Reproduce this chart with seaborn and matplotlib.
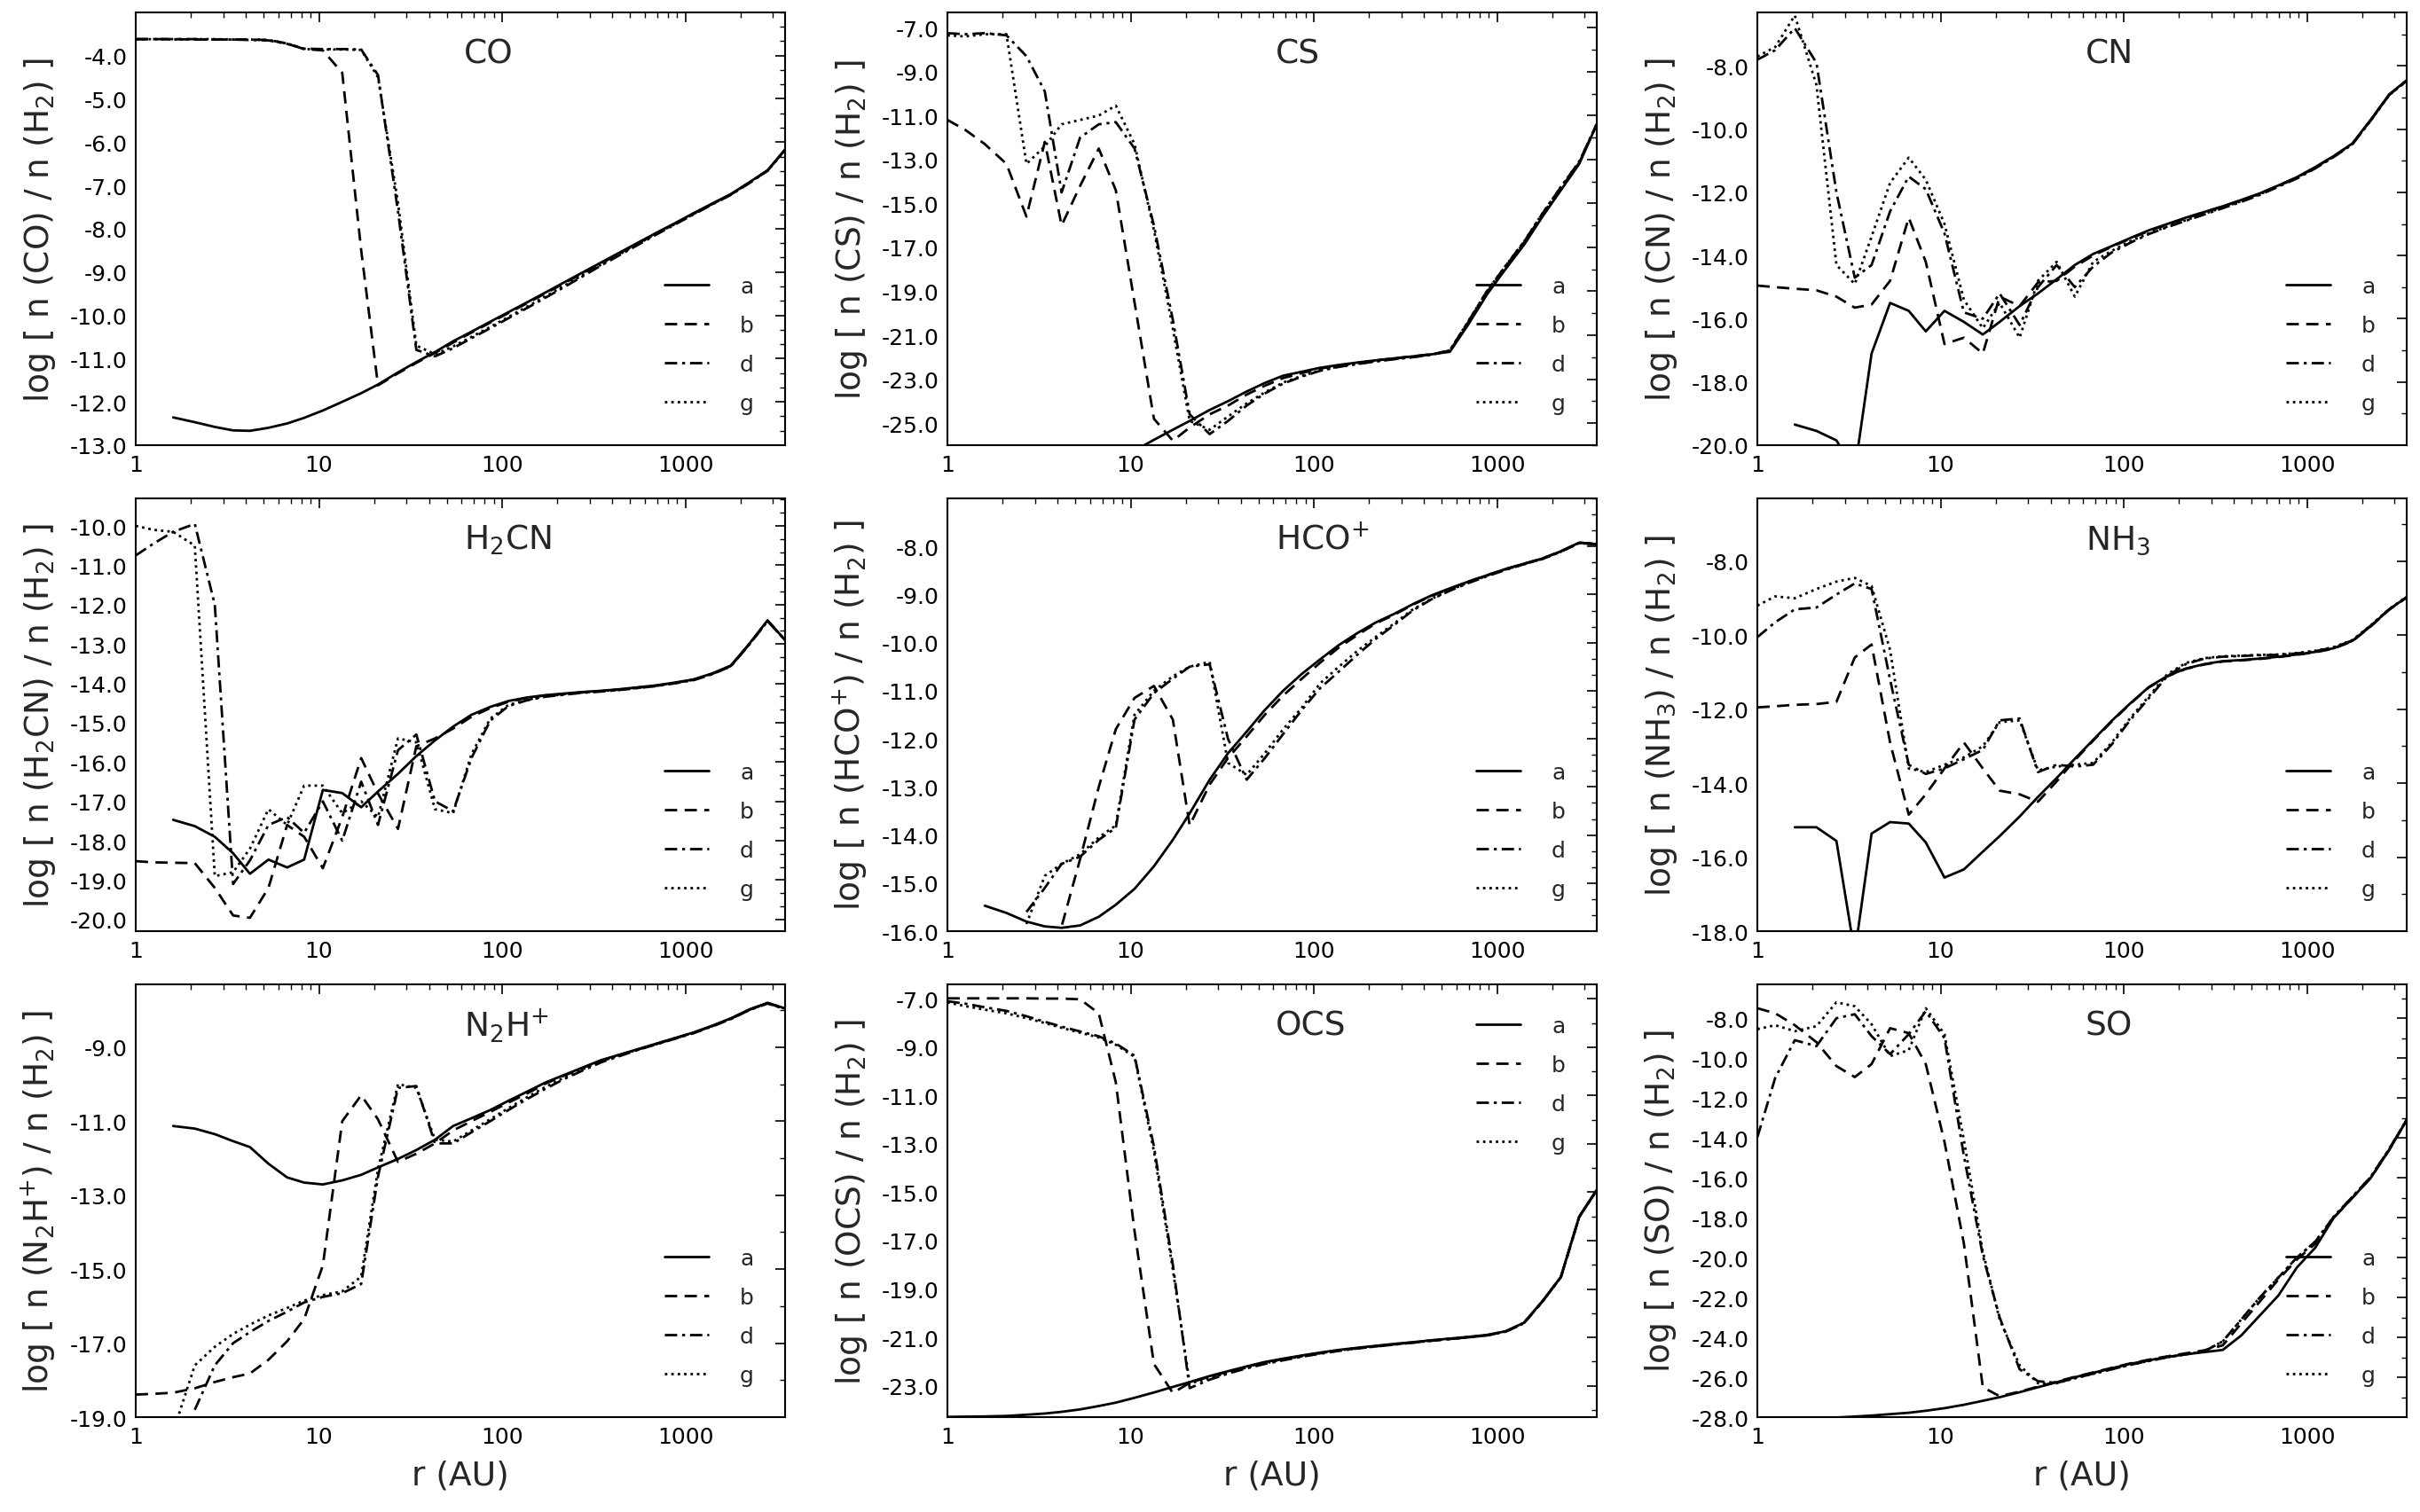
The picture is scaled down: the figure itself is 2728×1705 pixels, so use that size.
import numpy as np
import matplotlib
matplotlib.use("Agg")
import matplotlib.pyplot as plt
from matplotlib.ticker import AutoMinorLocator, FormatStrFormatter, LogLocator, NullFormatter
import seaborn as sns

nan = np.nan

# radial grid of the models (AU)
r_au = [1.0, 1.25, 1.6, 2.1, 2.7, 3.4, 4.2, 5.3, 6.7, 8.3, 10.5, 13.4, 17, 21, 27, 34, 43, 54,
        68, 86, 108, 137, 173, 218, 275, 347, 438, 553, 698, 880, 1110, 1400, 1770, 2230, 2810, 3500]

# log abundances, one list per species and model
CO_a = [nan, nan, -12.36, -12.47, -12.58, -12.66, -12.67, -12.6, -12.5, -12.37, -12.2, -12.0, -11.8, -11.6,
        -11.32, -11.08, -10.85, -10.6, -10.38, -10.15, -9.93, -9.7, -9.47, -9.24, -9.01, -8.78, -8.55, -8.32,
        -8.09, -7.87, -7.64, -7.42, -7.2, -6.93, -6.65, -6.17]
CO_b = [-3.62, -3.62, -3.62, -3.63, -3.63, -3.63, -3.63, -3.64, -3.72, -3.85, -3.88, -4.4, -8.5, -11.62,
        -11.34, -11.1, -10.87, -10.63, -10.4, -10.17, -9.95, -9.72, -9.49, -9.26, -9.03, -8.8, -8.57, -8.33,
        -8.1, -7.88, -7.65, -7.43, -7.21, -6.94, -6.66, -6.18]
CO_d = [-3.62, -3.62, -3.62, -3.62, -3.63, -3.63, -3.64, -3.65, -3.73, -3.84, -3.85, -3.85, -3.86, -4.45,
        -7.6, -10.8, -10.95, -10.76, -10.53, -10.3, -10.07, -9.83, -9.59, -9.35, -9.1, -8.85, -8.61, -8.37,
        -8.13, -7.9, -7.67, -7.44, -7.22, -6.95, -6.66, -6.18]
CO_g = [-3.63, -3.62, -3.63, -3.62, -3.62, -3.63, -3.63, -3.64, -3.72, -3.85, -3.86, -3.86, -3.87, -4.5,
        -7.4, -10.7, -10.9, -10.72, -10.5, -10.27, -10.04, -9.8, -9.56, -9.32, -9.07, -8.83, -8.59, -8.35,
        -8.11, -7.89, -7.66, -7.43, -7.21, -6.94, -6.66, -6.18]

CS_a = [nan, nan, nan, nan, nan, nan, nan, nan, nan, -26.8, -26.25, -25.76, -25.3, -24.9, -24.4, -24.0,
        -23.56, -23.17, -22.84, -22.66, -22.48, -22.35, -22.24, -22.14, -22.05, -21.96, -21.87, -21.75,
        -20.5, -19.15, -18.0, -16.9, -15.6, -14.4, -13.2, -11.4]
CS_b = [-11.2, -11.65, -12.3, -13.2, -15.6, -12.2, -16.0, -14.2, -12.5, -14.4, -19.5, -24.8, -25.8, -25.2,
        -24.6, -24.2, -23.7, -23.3, -22.95, -22.72, -22.52, -22.37, -22.26, -22.15, -22.05, -21.96, -21.86,
        -21.72, -20.4, -19.05, -17.9, -16.8, -15.5, -14.3, -13.15, -11.4]
CS_d = [-7.25, -7.3, -7.25, -7.35, -8.3, -9.9, -14.5, -12.0, -11.4, -11.3, -12.5, -16.0, -20.3, -24.6,
        -25.5, -24.9, -24.2, -23.65, -23.2, -22.88, -22.62, -22.44, -22.31, -22.19, -22.09, -22.0, -21.89,
        -21.69, -20.36, -19.0, -17.86, -16.76, -15.46, -14.26, -13.1, -11.4]
CS_g = [-7.35, -7.4, -7.3, -7.3, -13.2, -12.4, -11.4, -11.2, -11.0, -10.55, -12.3, -16.2, -20.7, -24.9,
        -25.3, -24.7, -24.1, -23.6, -23.15, -22.85, -22.6, -22.42, -22.3, -22.18, -22.08, -21.99, -21.88,
        -21.68, -20.35, -19.0, -17.85, -16.75, -15.45, -14.25, -13.1, -11.4]

CN_a = [nan, nan, -19.35, -19.55, -19.85, -20.8, -17.1, -15.5, -15.75, -16.4, -15.75, -16.1, -16.5, -16.1,
        -15.6, -15.2, -14.75, -14.3, -13.95, -13.7, -13.45, -13.2, -13.0, -12.8, -12.62, -12.44, -12.24,
        -12.03, -11.78, -11.52, -11.2, -10.85, -10.45, -9.7, -8.9, -8.45]
CN_b = [-14.95, -15.0, -15.05, -15.1, -15.3, -15.65, -15.55, -14.8, -12.8, -14.2, -16.8, -16.6, -17.1,
        -15.3, -15.6, -14.85, -14.8, -14.35, -14.0, -13.72, -13.47, -13.22, -13.02, -12.82, -12.63, -12.45,
        -12.25, -12.04, -11.79, -11.53, -11.21, -10.86, -10.46, -9.71, -8.91, -8.46]
CN_d = [-7.8, -7.5, -6.8, -7.9, -12.0, -14.7, -14.3, -12.6, -11.5, -11.9, -13.3, -15.8, -16.0, -15.2,
        -16.2, -15.0, -14.3, -15.0, -14.35, -13.9, -13.6, -13.32, -13.1, -12.9, -12.7, -12.5, -12.3, -12.08,
        -11.82, -11.56, -11.24, -10.88, -10.48, -9.72, -8.92, -8.47]
CN_g = [-7.7, -7.4, -6.4, -8.6, -14.3, -14.9, -13.4, -11.7, -10.9, -11.6, -13.0, -15.4, -16.3, -15.5,
        -16.6, -14.8, -14.2, -15.3, -14.2, -13.85, -13.55, -13.3, -13.08, -12.88, -12.68, -12.48, -12.28,
        -12.06, -11.8, -11.55, -11.23, -10.87, -10.47, -9.72, -8.92, -8.47]

H2CN_a = [nan, nan, -17.47, -17.63, -17.9, -18.32, -18.84, -18.48, -18.68, -18.48, -16.71, -16.79, -17.15,
          -16.75, -16.3, -15.85, -15.45, -15.1, -14.8, -14.6, -14.45, -14.36, -14.3, -14.26, -14.22, -14.19,
          -14.15, -14.1, -14.05, -13.98, -13.9, -13.75, -13.55, -13.0, -12.4, -12.9]
H2CN_b = [-18.52, -18.55, -18.56, -18.57, -19.2, -19.9, -19.96, -19.2, -17.6, -17.9, -18.7, -17.4, -15.9,
          -16.8, -17.7, -15.6, -15.4, -15.15, -14.85, -14.63, -14.47, -14.37, -14.31, -14.27, -14.23, -14.2,
          -14.16, -14.11, -14.06, -13.99, -13.91, -13.76, -13.56, -13.01, -12.41, -12.9]
H2CN_d = [-10.75, -10.45, -10.15, -9.95, -12.0, -19.1, -18.5, -17.6, -17.4, -17.8, -17.0, -18.0, -16.5,
          -17.6, -15.7, -15.3, -17.0, -17.25, -15.9, -14.95, -14.58, -14.43, -14.34, -14.29, -14.24, -14.21,
          -14.17, -14.12, -14.07, -14.0, -13.92, -13.77, -13.57, -13.02, -12.42, -12.9]
H2CN_g = [-10.0, -10.1, -10.15, -10.5, -18.9, -18.8, -18.2, -17.2, -17.6, -16.6, -16.6, -17.3, -17.0,
          -17.4, -15.4, -15.5, -17.2, -17.3, -15.8, -14.9, -14.55, -14.42, -14.33, -14.28, -14.23, -14.2,
          -14.16, -14.11, -14.06, -13.99, -13.91, -13.76, -13.56, -13.01, -12.41, -12.9]

HCO_a = [nan, nan, -15.47, -15.62, -15.8, -15.9, -15.93, -15.88, -15.7, -15.45, -15.12, -14.65, -14.1,
         -13.55, -12.85, -12.3, -11.85, -11.4, -11.0, -10.65, -10.35, -10.05, -9.8, -9.58, -9.4, -9.2, -9.02,
         -8.87, -8.73, -8.6, -8.47, -8.36, -8.25, -8.1, -7.92, -7.95]
HCO_b = [nan, nan, nan, nan, nan, -16.6, -15.9, -14.5, -13.0, -11.8, -11.15, -10.9, -11.6, -13.8, -12.95,
         -12.4, -11.95, -11.5, -11.1, -10.75, -10.42, -10.1, -9.84, -9.6, -9.42, -9.21, -9.03, -8.88, -8.73,
         -8.6, -8.47, -8.36, -8.25, -8.1, -7.92, -7.95]
HCO_d = [nan, nan, nan, nan, -15.6, -15.1, -14.6, -14.45, -14.1, -13.85, -11.6, -11.05, -10.75, -10.5,
         -10.45, -12.0, -12.85, -12.4, -11.9, -11.4, -10.95, -10.6, -10.25, -9.92, -9.63, -9.33, -9.1, -8.92,
         -8.76, -8.62, -8.49, -8.37, -8.26, -8.11, -7.93, -7.96]
HCO_g = [nan, nan, nan, nan, -15.85, -14.85, -14.6, -14.4, -14.05, -13.8, -11.5, -11.0, -10.7, -10.5,
         -10.4, -12.5, -12.75, -12.3, -11.8, -11.35, -10.85, -10.5, -10.17, -9.88, -9.6, -9.31, -9.09, -8.91,
         -8.75, -8.61, -8.48, -8.37, -8.26, -8.11, -7.93, -7.96]

NH3_a = [nan, nan, -15.19, -15.19, -15.56, -18.6, -15.36, -15.05, -15.09, -15.6, -16.55, -16.33, -15.85,
         -15.43, -14.9, -14.37, -13.86, -13.34, -12.83, -12.31, -11.85, -11.4, -11.1, -10.9, -10.78, -10.7,
         -10.67, -10.63, -10.58, -10.52, -10.45, -10.35, -10.15, -9.75, -9.3, -8.97]
NH3_b = [-11.95, -11.92, -11.88, -11.86, -11.8, -10.6, -10.25, -12.9, -14.85, -14.3, -13.6, -12.9, -13.6,
         -14.2, -14.3, -14.5, -13.95, -13.38, -12.85, -12.33, -11.86, -11.41, -11.11, -10.91, -10.79, -10.71,
         -10.68, -10.64, -10.59, -10.53, -10.46, -10.36, -10.16, -9.76, -9.31, -8.98]
NH3_d = [-10.05, -9.65, -9.3, -9.25, -8.9, -8.6, -8.75, -11.2, -13.5, -13.75, -13.6, -13.35, -13.1, -12.3,
         -12.25, -13.7, -13.5, -13.55, -13.5, -12.95, -12.3, -11.7, -11.1, -10.78, -10.63, -10.58, -10.56,
         -10.54, -10.53, -10.49, -10.43, -10.33, -10.14, -9.74, -9.3, -8.97]
NH3_g = [-9.2, -8.95, -9.0, -8.75, -8.55, -8.45, -8.67, -10.4, -13.6, -13.7, -13.5, -13.3, -13.0, -12.35,
         -12.3, -13.65, -13.55, -13.5, -13.45, -12.9, -12.25, -11.65, -11.05, -10.75, -10.62, -10.57, -10.55,
         -10.53, -10.52, -10.48, -10.42, -10.32, -10.13, -9.73, -9.29, -8.96]

N2H_a = [nan, nan, -11.13, -11.2, -11.35, -11.54, -11.7, -12.15, -12.52, -12.66, -12.71, -12.6, -12.45,
         -12.25, -12.02, -11.78, -11.5, -11.13, -10.92, -10.7, -10.45, -10.2, -9.95, -9.75, -9.55, -9.35,
         -9.2, -9.05, -8.9, -8.75, -8.6, -8.42, -8.22, -7.98, -7.8, -7.95]
N2H_b = [-18.39, -18.37, -18.34, -18.22, -18.05, -17.92, -17.82, -17.45, -16.95, -16.35, -14.9, -11.0,
         -10.3, -10.95, -12.1, -11.88, -11.6, -11.25, -11.0, -10.75, -10.5, -10.25, -9.98, -9.77, -9.56,
         -9.36, -9.21, -9.06, -8.91, -8.76, -8.61, -8.43, -8.23, -7.99, -7.81, -7.96]
N2H_d = [nan, nan, nan, -18.8, -17.6, -17.0, -16.7, -16.4, -16.15, -15.9, -15.75, -15.65, -15.4, -12.5,
         -10.1, -10.05, -11.6, -11.6, -11.3, -11.0, -10.7, -10.4, -10.12, -9.86, -9.63, -9.41, -9.24, -9.07,
         -8.92, -8.77, -8.62, -8.44, -8.24, -8.0, -7.82, -7.97]
N2H_g = [nan, nan, -19.4, -17.6, -17.1, -16.75, -16.5, -16.25, -16.05, -15.85, -15.7, -15.6, -15.2, -12.3,
         -10.0, -10.1, -11.5, -11.55, -11.25, -10.95, -10.65, -10.35, -10.07, -9.82, -9.6, -9.38, -9.22,
         -9.06, -8.91, -8.76, -8.61, -8.43, -8.23, -7.99, -7.81, -7.96]

OCS_a = [-24.29, -24.28, -24.27, -24.25, -24.2, -24.15, -24.08, -23.98, -23.84, -23.7, -23.5, -23.28,
         -23.05, -22.85, -22.6, -22.4, -22.2, -22.02, -21.88, -21.75, -21.63, -21.52, -21.43, -21.35, -21.27,
         -21.2, -21.12, -21.05, -20.98, -20.9, -20.75, -20.4, -19.5, -18.5, -16.0, -14.9]
OCS_b = [-6.98, -6.98, -6.98, -6.98, -6.98, -6.99, -6.99, -7.02, -7.6, -10.45, -16.6, -22.1, -23.3, -22.88,
         -22.62, -22.42, -22.22, -22.04, -21.9, -21.77, -21.65, -21.54, -21.45, -21.37, -21.29, -21.22,
         -21.14, -21.07, -21.0, -20.92, -20.77, -20.42, -19.52, -18.52, -16.02, -14.92]
OCS_d = [-7.1, -7.2, -7.35, -7.5, -7.72, -7.95, -8.15, -8.35, -8.55, -8.85, -9.35, -13.1, -18.0, -23.1,
         -22.75, -22.5, -22.28, -22.1, -21.95, -21.8, -21.68, -21.56, -21.46, -21.38, -21.3, -21.22, -21.14,
         -21.07, -21.0, -20.92, -20.77, -20.42, -19.52, -18.52, -16.02, -14.92]
OCS_g = [-7.15, -7.3, -7.45, -7.6, -7.8, -8.0, -8.2, -8.4, -8.6, -8.9, -9.4, -13.3, -18.2, -22.9, -22.7,
         -22.45, -22.25, -22.07, -21.92, -21.78, -21.66, -21.54, -21.45, -21.37, -21.29, -21.21, -21.13,
         -21.06, -20.99, -20.91, -20.76, -20.41, -19.51, -18.51, -16.01, -14.91]

SO_a = [-28.3, -28.2, -28.15, -28.1, -28.02, -27.97, -27.92, -27.85, -27.78, -27.68, -27.55, -27.38,
        -27.18, -27.0, -26.75, -26.5, -26.25, -26.0, -25.78, -25.55, -25.33, -25.15, -24.98, -24.85, -24.74,
        -24.63, -23.9, -22.9, -21.9, -20.5, -19.5, -18.0, -17.0, -16.0, -14.6, -13.1]
SO_b = [-7.5, -7.75, -8.35, -9.2, -10.4, -10.95, -10.3, -8.5, -8.75, -10.3, -14.2, -19.3, -26.5, -26.95,
        -26.72, -26.47, -26.22, -25.98, -25.76, -25.53, -25.31, -25.12, -24.95, -24.8, -24.65, -24.4, -23.3,
        -22.2, -21.1, -20.1, -19.3, -18.0, -17.0, -16.0, -14.6, -13.1]
SO_d = [-13.96, -11.0, -9.1, -9.4, -8.0, -7.8, -8.9, -9.8, -8.8, -7.65, -9.0, -14.9, -19.9, -23.0, -25.6,
        -26.2, -26.28, -26.05, -25.82, -25.6, -25.38, -25.18, -25.0, -24.85, -24.7, -24.2, -23.1, -22.0,
        -21.0, -20.0, -19.2, -17.95, -16.95, -15.95, -14.55, -13.1]
SO_g = [-8.55, -8.35, -8.65, -8.4, -7.2, -7.4, -8.3, -9.9, -9.6, -7.5, -8.8, -14.1, -19.7, -23.1, -25.4,
        -26.3, -26.3, -26.05, -25.83, -25.6, -25.38, -25.18, -25.0, -24.85, -24.7, -24.2, -23.1, -22.0,
        -21.0, -20.0, -19.2, -17.95, -16.95, -15.95, -14.55, -13.1]

titles = ["CO", "CS", "CN", "$H_2CN$", "$HCO^{+}$", "$NH_3$", "$N_2H^{+}$", "OCS", "SO"]
models = ["a", "b", "d", "g"]
ylims = [(-13, -3), (-26, -6.3), (-20, -6.3), (-20.3, -9.3), (-16, -7), (-18, -6.3),
         (-19, -7.3), (-24.3, -6.4), (-28, -6.3)]
yticks = [list(range(-13, -3)), list(range(-25, -6, 2)), list(range(-20, -7, 2)),
          list(range(-20, -9)), list(range(-16, -7)), list(range(-18, -7, 2)),
          list(range(-19, -8, 2)), list(range(-23, -6, 2)), list(range(-28, -7, 2))]
xticks = [1, 10, 100, 1000]
xticklabels = ["1", "10", "100", "1000"]

data = [
    [CO_a, CO_b, CO_d, CO_g],
    [CS_a, CS_b, CS_d, CS_g],
    [CN_a, CN_b, CN_d, CN_g],
    [H2CN_a, H2CN_b, H2CN_d, H2CN_g],
    [HCO_a, HCO_b, HCO_d, HCO_g],
    [NH3_a, NH3_b, NH3_d, NH3_g],
    [N2H_a, N2H_b, N2H_d, N2H_g],
    [OCS_a, OCS_b, OCS_d, OCS_g],
    [SO_a, SO_b, SO_d, SO_g],
]

styles = {"a": "-", "b": (0, (5, 3)), "d": (0, (5, 2, 1.2, 2)), "g": (0, (1, 1.6))}

sns.set_theme(style="white", rc={
    "axes.edgecolor": "black",
    "axes.linewidth": 1.5,
    "xtick.color": "black",
    "ytick.color": "black",
    "axes.unicode_minus": False,
})
plt.rcParams["font.family"] = ["DejaVu Sans"]
plt.rcParams["mathtext.default"] = "regular"

fig = plt.figure(figsize=(27.28, 17.06), dpi=100)

lefts = [0.0561, 0.3915, 0.7262]
bottoms = [0.7052, 0.3839, 0.0627]
w, h = 0.2683, 0.2861

for i, title in enumerate(titles):
    row, col = divmod(i, 3)
    ax = fig.add_axes([lefts[col], bottoms[row], w, h])
    for m, vals in zip(models, data[i]):
        sns.lineplot(x=r_au, y=vals, ax=ax, color="black", lw=2.0,
                     linestyle=styles[m], label=m, estimator=None)
    ax.set_xscale("log")
    ax.set_xlim(1, 3500)
    ax.set_ylim(*ylims[i])
    ax.set_xticks(xticks)
    ax.set_xticklabels(xticklabels)
    ax.xaxis.set_minor_locator(LogLocator(base=10, subs=np.arange(2, 10)))
    ax.xaxis.set_minor_formatter(NullFormatter())
    ax.set_yticks(yticks[i])
    ax.yaxis.set_major_formatter(FormatStrFormatter("%.1f"))
    step = yticks[i][1] - yticks[i][0]
    ax.yaxis.set_minor_locator(AutoMinorLocator(3 if step == 1 else 2))
    ax.tick_params(which="both", direction="in", top=True, right=True, labelsize=18, pad=7)
    ax.tick_params(which="major", length=8, width=1.2)
    ax.tick_params(which="minor", length=4, width=1.0)
    for s in ax.spines.values():
        s.set_visible(True)

    ax.set_ylabel("log [ n (" + title + ") / n ($H_2$) ]", fontsize=27, labelpad=10)
    if row == 2:
        ax.set_xlabel("r (AU)", fontsize=27, labelpad=10)
    else:
        ax.set_xlabel("")
    ax.text(0.505, 0.905, title, transform=ax.transAxes, fontsize=27, ha="left", va="center")

    loc = "upper right" if title == "OCS" else "lower right"
    ax.legend(loc=loc, frameon=False, fontsize=18, handlelength=2.0, handletextpad=1.4,
              labelspacing=0.8, borderaxespad=1.0)

fig.savefig("out.png", dpi=100)
